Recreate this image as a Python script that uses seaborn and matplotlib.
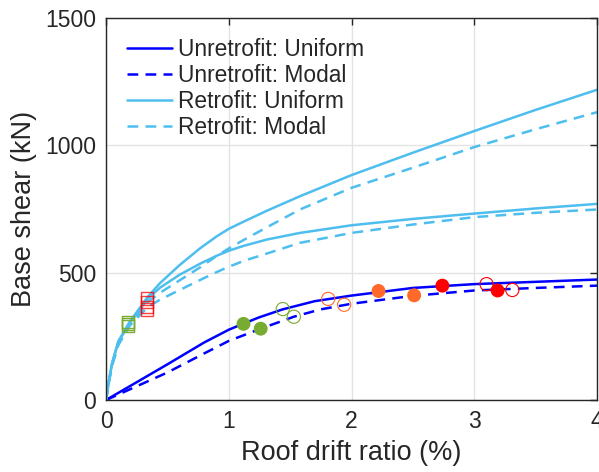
import numpy as np
import pandas as pd
import seaborn as sns
import matplotlib.pyplot as plt

# curvas pushover (deriva de techo %, cortante basal kN)
unret_unif_x = [0, 0.5, 0.8, 1.0, 1.12, 1.25, 1.44, 1.7, 2.0, 2.5, 3.0, 3.5, 4.0]
unret_unif_y = [0, 140, 226, 276, 300, 325, 356, 388, 410, 440, 455, 464, 473]
unret_modal_x = [0, 0.5, 0.8, 1.0, 1.26, 1.53, 1.75, 2.0, 2.5, 3.0, 3.5, 4.0]
unret_modal_y = [0, 108, 183, 232, 280, 327, 356, 378, 409, 430, 440, 449]

ret_x = [0, 0.025, 0.05, 0.1, 0.19, 0.34, 0.44, 0.6, 0.77, 0.9, 1.0, 1.12, 1.31, 1.58, 2.0, 2.5, 3.0, 3.5, 4.0]
ret_unif_hi = [0, 80, 145, 230, 305, 405, 459, 530, 597, 642, 672, 700, 743, 800, 883, 971, 1056, 1139, 1218]
ret_unif_lo = [0, 80, 145, 228, 300, 398, 441, 492, 536, 566, 586, 605, 630, 656, 686, 711, 732, 752, 770]
ret_modal_hi = [0, 75, 140, 222, 295, 385, 421, 470, 522, 565, 595, 628, 678, 748, 833, 912, 993, 1063, 1130]
ret_modal_lo = [0, 75, 135, 215, 290, 365, 394, 432, 472, 502, 523, 546, 575, 617, 656, 689, 718, 735, 748]

# puntos de desempeño
sq_green_x = [0.18, 0.18, 0.18]
sq_green_y = [290, 298, 306]
sq_red_x = [0.335, 0.335, 0.335, 0.335]
sq_red_y = [352, 366, 384, 402]

filled_x = [1.12, 1.26, 2.22, 2.51, 2.74, 3.19]
filled_y = [299, 280, 428, 411, 449, 430]
filled_c = ['#77AC30', '#77AC30', '#FF6929', '#FF6929', '#FF0000', '#FF0000']

open_x = [1.44, 1.53, 1.81, 1.94, 3.10, 3.31]
open_y = [357, 327, 397, 374, 455, 432]
open_c = ['#77AC30', '#77AC30', '#FF6929', '#FF6929', '#FF0000', '#FF0000']

dark = '#0000FF'
light = '#4DBEEE'
dash = (0, (4.3, 2.9))

sns.set_style('white')
plt.rcParams['font.family'] = ['Liberation Sans', 'DejaVu Sans']

fig = plt.figure(figsize=(5.99, 4.72), dpi=100)
ax = fig.add_axes([0.177, 0.1525, 0.8197, 0.8095])

sns.lineplot(x=unret_unif_x, y=unret_unif_y, ax=ax, color=dark, lw=1.8, label='Unretrofit: Uniform')
sns.lineplot(x=unret_modal_x, y=unret_modal_y, ax=ax, color=dark, lw=1.8, linestyle=dash, label='Unretrofit: Modal')
sns.lineplot(x=ret_x, y=ret_unif_hi, ax=ax, color=light, lw=1.8, label='Retrofit: Uniform')
sns.lineplot(x=ret_x, y=ret_modal_hi, ax=ax, color=light, lw=1.8, linestyle=dash, label='Retrofit: Modal')
sns.lineplot(x=ret_x, y=ret_unif_lo, ax=ax, color=light, lw=1.8, label='_nolegend_')
sns.lineplot(x=ret_x, y=ret_modal_lo, ax=ax, color=light, lw=1.8, linestyle=dash, label='_nolegend_')

ax.scatter(sq_green_x, sq_green_y, s=70, marker='s', facecolors='none', edgecolors='#77AC30', linewidths=1.0, zorder=4)
ax.scatter(sq_red_x, sq_red_y, s=70, marker='s', facecolors='none', edgecolors='#FF0000', linewidths=1.0, alpha=0.75, zorder=4)
ax.scatter(filled_x, filled_y, s=100, c=filled_c, edgecolors='none', zorder=5)
ax.scatter(open_x, open_y, s=90, facecolors='none', edgecolors=open_c, linewidths=0.8, zorder=5)

ax.set_xlim(0, 4)
ax.set_ylim(0, 1500)
ax.set_xticks([0, 1, 2, 3, 4])
ax.set_yticks([0, 500, 1000, 1500])
ax.grid(True, color='#E3E3E3', lw=1)
ax.set_axisbelow(True)
for s in ax.spines.values():
    s.set_color('#262626')
    s.set_linewidth(1)
ax.tick_params(direction='in', top=True, right=True, length=5, width=1, colors='#262626', labelsize=16.5, pad=7)
ax.set_xlabel('Roof drift ratio (%)', fontsize=19.5, color='#262626', labelpad=5)
ax.set_ylabel('Base shear (kN)', fontsize=19.5, color='#262626', labelpad=6)

ax.legend(loc='upper left', frameon=False, fontsize=16.4, handlelength=2.0, handletextpad=0.26,
          labelspacing=0.12, borderaxespad=0.5)

plt.savefig('out.png', dpi=100)
